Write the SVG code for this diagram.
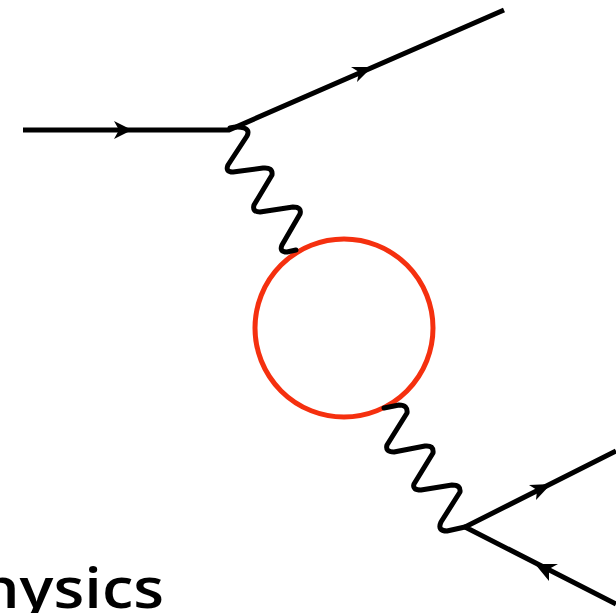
<svg xmlns="http://www.w3.org/2000/svg" width="616" height="613" viewBox="0 0 616 613">
<style>
.l{fill:none;stroke:#000;stroke-width:5}
.w{fill:none;stroke:#000;stroke-width:5;stroke-linejoin:round;stroke-linecap:round}
.a{fill:#000;stroke:none}
text{font-family:"Open Sans","Noto Sans",sans-serif;font-size:56px;font-weight:600;fill:#000}
</style>
<rect width="616" height="613" fill="#fff"/>
<g id="loop"><circle cx="344" cy="328" r="89" fill="none" stroke="#f5300f" stroke-width="5"/></g>
<g id="connectors">
<path class="l" d="M23 130H229L504 10"/>
<path class="l" d="M616 451L465 527L616 604"/>
<path class="w" d="M230 128Q238 126 244 128Q250 130 247 136L228 165Q225 172 233 172L263 168Q273 167 272 175L254 205Q252 212 260 212L293 207Q302 207 300 214L282 245Q279 252 287 252L296 250"/>
<path class="w" d="M384 408L399 405Q408 405 407 413L387 445Q385 452 394 452L425 446Q434 445 433 453L414 484Q412 490 421 490L452 485Q461 485 460 492L441 522Q437 531 447 531L465 527"/>
</g>
<g id="arrows">
<path class="a" d="M132 130L114 121L119 130L114 139Z"/>
<path class="a" d="M372 67L351 67L359 72L357 82Z"/>
<path class="a" d="M551 484L529 485L537 490L536 500Z"/>
<path class="a" d="M535 564L558 564L549 569L549 581Z"/>
</g>
<g id="label"><text transform="translate(-60 608) scale(1.13 1)">physics</text></g>
</svg>
